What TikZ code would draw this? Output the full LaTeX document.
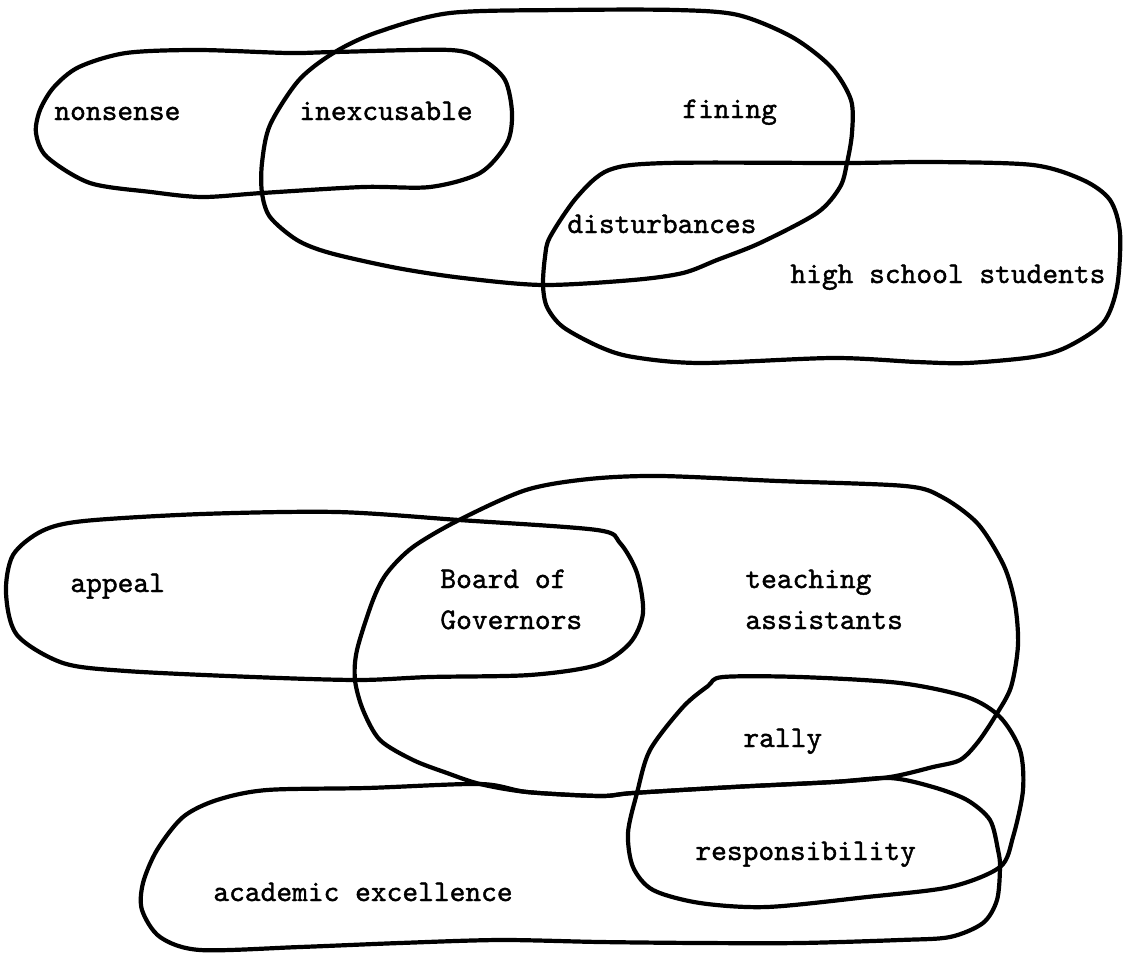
\documentclass[tikz,border=0pt]{standalone}
\usepackage{fontspec}
\usepackage{tikz}
\newfontfamily\typewriter{lmmono10-regular}[Extension=.otf, FakeBold=1.3]
\tikzset{blob/.style={
    draw,
    line width=2.1pt,
    line cap=round,
    line join=round,
}}
\tikzset{word/.style={
    font=\typewriter\fontsize{15}{20.5}\selectfont,
    inner sep=0pt,
    anchor=base west,
    align=left,
}}

\begin{document}
\begin{tikzpicture}[x=0.5pt, y=-0.5pt]
    \useasboundingbox (0,0) rectangle (1130,953);

    % upper group
    \draw[blob] plot[smooth cycle] coordinates {(36,133) (40,110) (54,87) (79,67) (126,53) (198,50) (288,53) (335,52) (450,50) (483,60) (505,80) (512,113) (507,143) (480,173) (430,187) (363,187) (262,193) (202,197) (151,192) (90,183) (47,157)};
    \draw[blob] plot[smooth cycle] coordinates {(299,80) (335,52) (378,32) (450,13) (565,10) (676,10) (738,15) (792,37) (831,67) (851,100) (852,133) (847,163) (840,187) (817,213) (760,243) (717,260) (683,273) (633,280) (543,285) (463,278) (397,268) (330,253) (297,240) (270,217) (262,193) (262,163) (270,125)};
    \draw[blob] plot[smooth cycle] coordinates {(609,170) (667,163) (847,163) (933,162) (1033,165) (1083,180) (1110,200) (1120,233) (1117,287) (1103,323) (1067,347) (1033,357) (967,363) (917,362) (833,358) (700,363) (633,357) (600,347) (563,327) (547,307) (543,285) (545,257) (550,237) (577,197)};

    \node[word] (nonsense) at (54,120) {nonsense};
    \node[word] (inexcusable) at (299,120) {inexcusable};
    \node[word] (fining) at (682,118) {fining};
    \node[word] (disturbances) at (567,233) {disturbances};
    \node[word] (students) at (790,283) {high school students};

    % lower group
    \draw[blob] plot[smooth cycle] coordinates {(6,593) (13,555) (42,531) (84,521) (202,514) (337,512) (459,520) (597,530) (620,543) (637,573) (643,613) (630,643) (597,665) (530,675) (430,677) (358,680) (253,677) (126,671) (63,663) (17,635)};
    \draw[blob] plot[smooth cycle] coordinates {(459,520) (526,490) (589,479) (660,476) (778,481) (905,486) (942,497) (978,524) (1004,566) (1015,604) (1018,645) (1011,687) (996,715) (978,742) (960,760) (933,767) (890,777) (833,782) (733,787) (633,793) (600,796) (527,792) (480,784) (447,773) (413,760) (380,740) (363,710) (355,680) (357,650) (373,600) (387,573) (413,547)};
    \draw[blob] plot[smooth cycle] coordinates {(723,677) (800,677) (900,683) (967,697) (1000,717) (1020,750) (1023,790) (1013,837) (1000,867) (950,887) (867,897) (767,907) (700,903) (653,890) (633,867) (628,833) (637,793) (650,750) (683,707) (708,686)};
    \draw[blob] plot[smooth cycle] coordinates {(480,784) (527,792) (600,796) (633,793) (733,787) (833,782) (890,778) (933,787) (967,800) (990,820) (998,850) (1000,867) (997,900) (983,923) (950,937) (900,940) (800,943) (700,943) (600,942) (500,940) (400,943) (300,947) (200,950) (160,937) (142,910) (143,883) (157,850) (183,817) (217,800) (267,790) (367,788)};

    \node[word] (appeal) at (70,592) {appeal};
    \node[word] (board) at (440,629) {Board of\\Governors};
    \node[word] (teaching) at (745,629) {teaching\\assistants};
    \node[word] (rally) at (743,747) {rally};
    \node[word] (responsibility) at (695,860) {responsibility};
    \node[word] (excellence) at (213,901) {academic excellence};
\end{tikzpicture}
\end{document}
